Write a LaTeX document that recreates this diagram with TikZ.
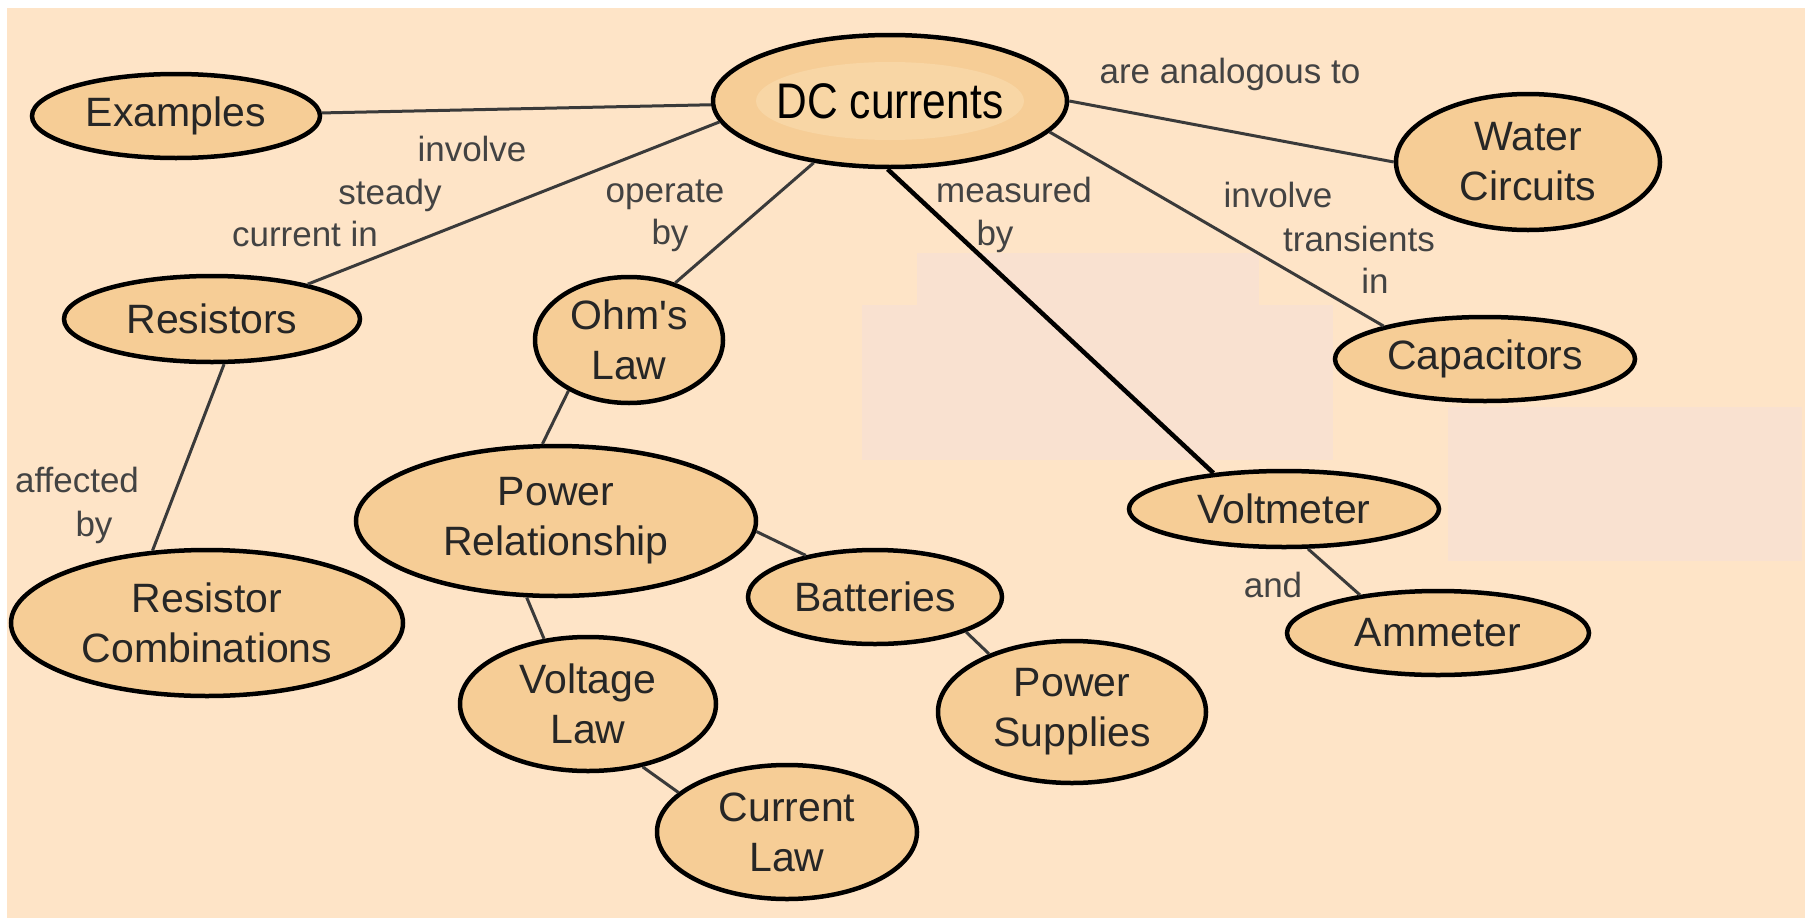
\documentclass[tikz,border=0pt]{standalone}
\usepackage{fontspec}
\setmainfont{Liberation Sans}
\newfontfamily\dcfont[FakeStretch=0.85]{Liberation Sans}
\usetikzlibrary{shapes.geometric}
\definecolor{bgpeach}{HTML}{FEE4C7}
\definecolor{patchpink}{HTML}{F9E1D0}
\definecolor{conceptfill}{HTML}{F6CD96}
\definecolor{dcglow}{HTML}{F8D6A5}
\definecolor{linkgray}{HTML}{3A3A3A}
\definecolor{labelgray}{HTML}{434343}

\begin{document}
\begin{tikzpicture}[x=1pt, y=-1pt,
  concept/.style={ellipse, draw=black, line width=4.5pt, fill=conceptfill, inner sep=0pt,
    align=center, text=black!85, font=\fontsize{41}{50}\selectfont},
  link/.style={draw=linkgray, line width=3pt},
  measure/.style={draw=black, line width=4.5pt},
  lbl/.style={anchor=base, inner sep=0pt, text=labelgray, font=\fontsize{35}{40}\selectfont}]

  % ==========================================
  % Canvas
  % ==========================================
  \useasboundingbox (0,0) rectangle (1805,921);
  \fill[white] (0,0) rectangle (1805,921);
  \fill[bgpeach] (7,8) rectangle (1805,918);

  % ==========================================
  % Link labels
  % ==========================================
  \node[lbl] (lblinvolve) at (472,161) {involve};
  \node[lbl] (lblsteady) at (390,204) {steady};
  \node[lbl] (lblcurrent) at (305,246) {current in};
  \node[lbl] (lbloperate) at (665,202) {operate};
  \node[lbl] (lbloperateby) at (670,244) {by};
  \node[lbl] (lblmeasured) at (1014,202) {measured};
  \node[lbl] (lblmeasuredby) at (995,245) {by};
  \node[lbl] (lblanalog) at (1230,83) {are analogous to};
  \node[lbl] (lbltrinvolve) at (1278,207) {involve};
  \node[lbl] (lbltransients) at (1359,251) {transients};
  \node[lbl] (lbltrin) at (1375,293) {in};
  \node[lbl] (lblaffected) at (77,492) {affected};
  \node[lbl] (lblaffectedby) at (94,536) {by};
  \node[lbl] (lbland) at (1273,597) {and};

  % Faint patches
  \fill[patchpink] (917,253) rectangle (1259,305);
  \fill[patchpink] (862,305) rectangle (1333,460);
  \fill[patchpink] (1448,407) rectangle (1802,561);

  % ==========================================
  % Concepts
  % ==========================================
  \node[concept, minimum width=354, minimum height=132, text=black,
    path picture={\fill[dcglow] (path picture bounding box.center) ellipse (134 and 39);},
    font=\dcfont\fontsize{50}{56}\selectfont] (dc) at (890,101) {DC currents};
  \node[concept, minimum width=288, minimum height=84] (ex) at (176,116) {Examples};
  \node[concept, minimum width=264, minimum height=136] (water) at (1528,162) {Water\\Circuits};
  \node[concept, minimum width=296, minimum height=86] (res) at (212,319) {Resistors};
  \node[concept, minimum width=188, minimum height=126, inner ysep=-6pt] (ohm) at (629,340) {Ohm\textquotesingle s\\Law};
  \node[concept, minimum width=300, minimum height=84] (cap) at (1485,359) {Capacitors};
  \node[concept, minimum width=400, minimum height=150] (power) at (556,521) {Power\\Relationship};
  \node[concept, minimum width=310, minimum height=76] (volt) at (1284,509) {Voltmeter};
  \node[concept, minimum width=392, minimum height=146] (comb) at (207,623) {Resistor\\Combinations};
  \node[concept, minimum width=254, minimum height=94] (bat) at (875,597) {Batteries};
  \node[concept, minimum width=302, minimum height=84] (amm) at (1438,633) {Ammeter};
  \node[concept, minimum width=256, minimum height=134, inner ysep=-4pt] (vlaw) at (588,704) {Voltage\\Law};
  \node[concept, minimum width=268, minimum height=142] (psup) at (1072,712) {Power\\Supplies};
  \node[concept, minimum width=260, minimum height=134, inner ysep=-4pt] (claw) at (787,832) {Current\\Law};

  % ==========================================
  % Links
  % ==========================================
  \draw[link] (ex) -- (dc);
  \draw[link] (res.20) -- (dc.187);
  \draw[link] (ohm.51) -- (dc.219);
  \draw[link] (dc.0) -- (water.180);
  \draw[link] (dc.349) -- (cap.162);
  \draw[measure] (dc.268) -- (volt.153);
  \draw[link] (res.285) -- (comb.127);
  \draw[link] (ohm.220) -- (power.100);
  \draw[link] (power.357) -- (bat.149);
  \draw[link] (power.249) -- (vlaw.124);
  \draw[link] (vlaw.311) -- (claw.160);
  \draw[link] (bat.339) -- (psup.145);
  \draw[link] (volt.301) -- (amm.154);

\end{tikzpicture}
\end{document}
